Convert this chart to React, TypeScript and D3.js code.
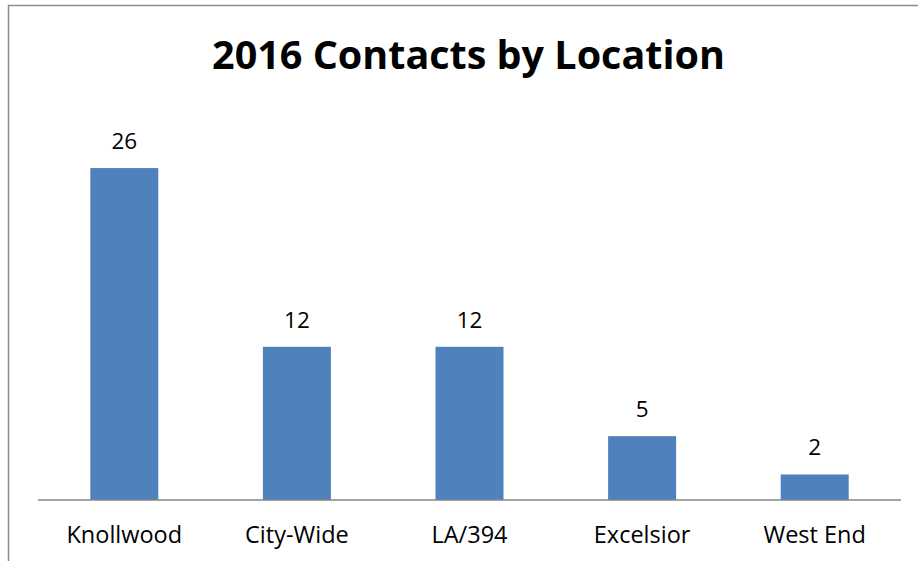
import * as d3 from "d3";

const locations = ["Knollwood", "City-Wide", "LA/394", "Excelsior", "West End"];
const contacts = [26, 12, 12, 5, 2];
const chartTitle = "2016 Contacts by Location";

const W = 918;
const H = 561;
const FONT = "'Open Sans', 'Noto Sans', sans-serif";

export default function App() {
  const x = d3
    .scaleBand<string>()
    .domain(locations)
    .range([38, 901])
    .paddingInner(0.606)
    .paddingOuter(0.303);

  // baseline at 500, 26 lands at ~168
  const y = d3.scaleLinear().domain([0, 30]).range([500, 117]);

  return (
    <svg
      width={W}
      height={H}
      style={{ position: "absolute", left: 0, top: 0, display: "block", background: "#fff" }}
    >
      {/* chart frame, only top and left edges visible */}
      <path d="M8.5,561 L8.5,5.5 L918,5.5" fill="none" stroke="#8c8c8c" strokeWidth={1.5} />

      <text
        x={468.5}
        y={69}
        textAnchor="middle"
        fontFamily={FONT}
        fontWeight="bold"
        fontSize={39.5}
        fill="#000"
      >
        {chartTitle}
      </text>

      {locations.map((loc, i) => {
        const v = contacts[i];
        const bx = x(loc)!;
        return (
          <g key={loc}>
            <rect x={bx} y={y(v)} width={x.bandwidth()} height={y(0) - y(v)} fill="#4F81BD" />
            <text
              x={bx + x.bandwidth() / 2}
              y={y(v) - 19}
              textAnchor="middle"
              fontFamily={FONT}
              fontSize={22.5}
              fill="#000"
            >
              {v}
            </text>
            <text
              x={bx + x.bandwidth() / 2}
              y={543}
              textAnchor="middle"
              fontFamily={FONT}
              fontSize={23.5}
              fill="#000"
            >
              {loc}
            </text>
          </g>
        );
      })}

      <line x1={38} x2={901} y1={y(0)} y2={y(0)} stroke="#868686" strokeWidth={1.5} />
    </svg>
  );
}
